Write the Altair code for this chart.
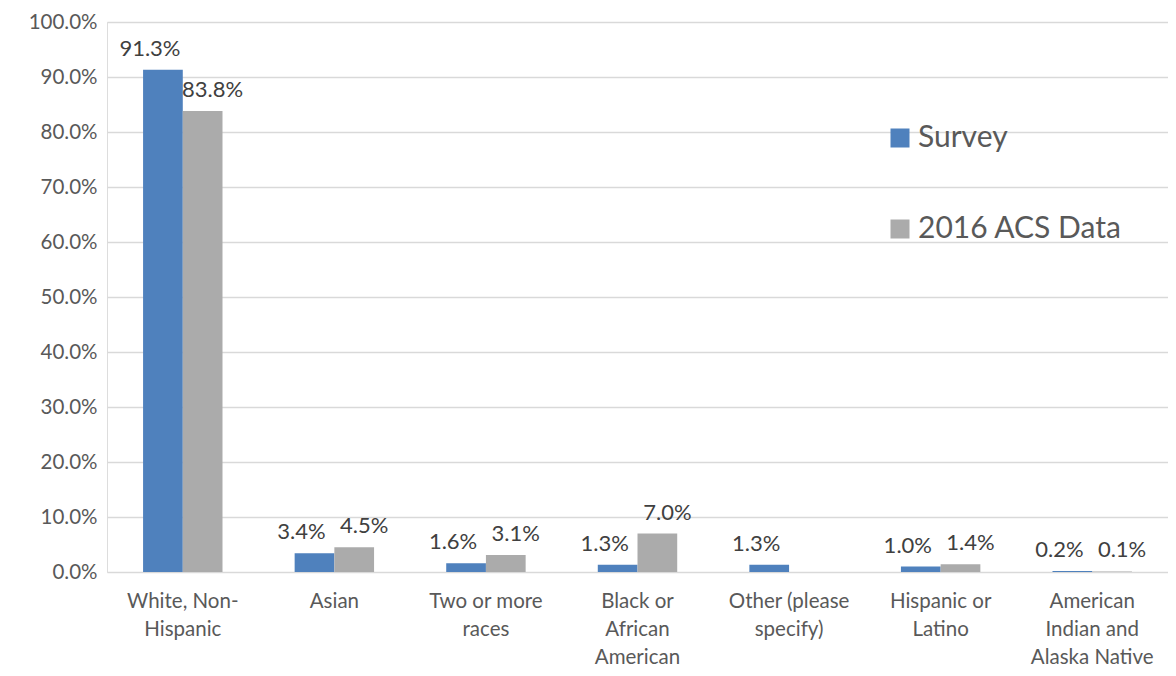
import altair as alt
import pandas as pd

categories = [
    "White, Non-|Hispanic",
    "Asian",
    "Two or more|races",
    "Black or|African|American",
    "Other (please|specify)",
    "Hispanic or|Latino",
    "American|Indian and|Alaska Native",
]
series = ["Survey", "2016 ACS Data"]
survey = [0.913, 0.034, 0.016, 0.013, 0.013, 0.010, 0.002]
acs = [0.838, 0.045, 0.031, 0.070, None, 0.014, 0.001]
colors = ["#4F81BD", "#ABABAB"]
y_ticks = [i / 10 for i in range(11)]

rows = []
for c, s, a in zip(categories, survey, acs):
    rows.append({"category": c, "series": series[0], "value": s})
    if a is not None:
        rows.append({"category": c, "series": series[1], "value": a})
df = pd.DataFrame(rows)

FONT = "Lato"

x_enc = alt.X(
    "category:N",
    sort=categories,
    title=None,
    scale=alt.Scale(paddingInner=0.476, paddingOuter=0.238),
    axis=alt.Axis(
        labelExpr="split(datum.label, '|')",
        labelAngle=0,
        labelFontSize=20.5,
        labelColor="#595959",
        labelFont=FONT,
        labelLineHeight=28,
        labelPadding=19,
        ticks=False,
        domain=False,
        grid=False,
    ),
)
xoff_enc = alt.XOffset("series:N", sort=series, scale=alt.Scale(paddingInner=0, paddingOuter=0))
y_enc = alt.Y(
    "value:Q",
    title=None,
    scale=alt.Scale(domain=[0, 1], nice=False),
    axis=alt.Axis(
        format=".1%",
        values=y_ticks,
        labelFontSize=20.5,
        labelColor="#595959",
        labelFont=FONT,
        labelPadding=10,
        ticks=False,
        domain=False,
        grid=True,
        gridColor="#D9D9D9",
        gridWidth=1.5,
    ),
)

base = alt.Chart(df)

bars = base.mark_bar().encode(
    x=x_enc,
    xOffset=xoff_enc,
    y=y_enc,
    color=alt.Color(
        "series:N",
        sort=series,
        scale=alt.Scale(domain=series, range=colors),
        legend=alt.Legend(
            title=None,
            orient="none",
            legendX=778,
            legendY=101,
            symbolType="square",
            symbolSize=361,
            symbolStrokeWidth=0,
            labelFontSize=30,
            labelFont=FONT,
            labelColor="#595959",
            labelOffset=3,
            labelLimit=400,
            rowPadding=61,
            padding=0,
        ),
    ),
)


def labels(name, dx):
    return (
        base.transform_filter(alt.datum.series == name)
        .mark_text(baseline="alphabetic", align="center", dy=-14, dx=dx,
                   fontSize=22, font=FONT, color="#404040")
        .encode(
            x=alt.X("category:N", sort=categories),
            xOffset=alt.XOffset("series:N", sort=series),
            y=alt.Y("value:Q"),
            text=alt.Text("value:Q", format=".1%"),
        )
    )


chart = (
    alt.layer(bars, labels(series[0], -13), labels(series[1], 10))
    .properties(
        width=1061,
        height=550,
        autosize=alt.AutoSizeParams(type="none"),
        padding={"left": 99, "top": 14, "right": 0, "bottom": 96},
    )
    .configure_view(stroke=None)
    .configure(font=FONT, background="white")
)

chart.save("out.html", embed_options={"renderer": "svg", "actions": False})
